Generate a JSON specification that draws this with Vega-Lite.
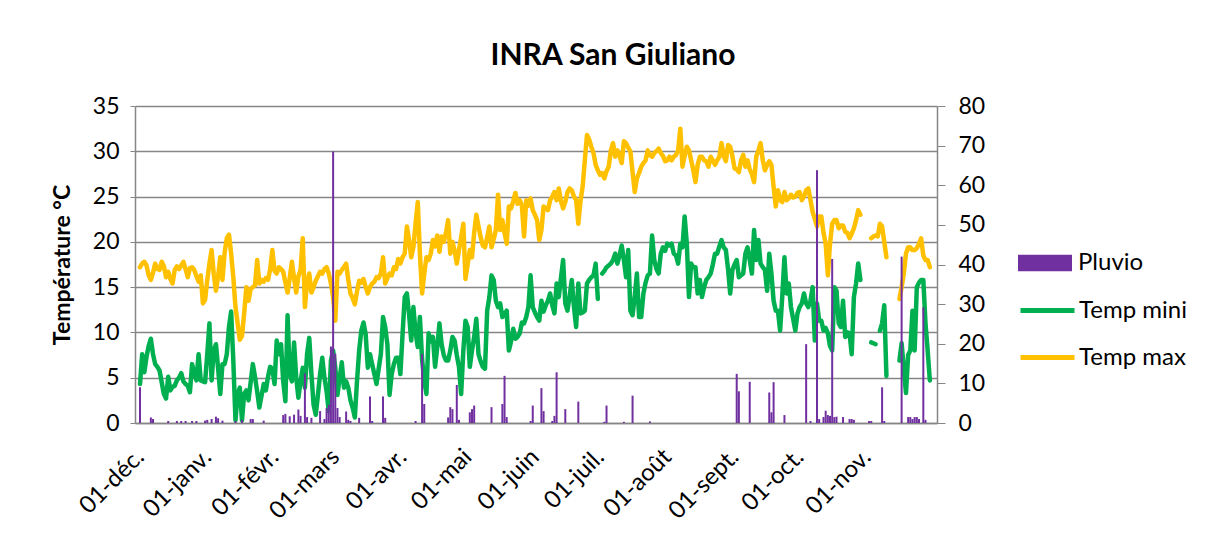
{
"$schema": "https://vega.github.io/schema/vega-lite/v6.json",
"width": 802, "height": 317,
"autosize": {"type": "none"},
"padding": {"left": 135, "top": 106, "right": 271, "bottom": 110},
"background": "white",
"title": {"text": "INRA San Giuliano", "font": "Lato", "fontSize": 30, "fontWeight": "bold", "color": "black", "anchor": "middle", "dx": 77, "offset": 24},
"config": {"view": {"stroke": null}, "font": "Lato"},
"data": {"values": [
{"date":"2012-12-01","min":4.3,"max":17.2,"rain":9},
{"date":"2012-12-02","min":7.6,"max":17.6},
{"date":"2012-12-03","min":5.6,"max":17.8},
{"date":"2012-12-04","min":7.3,"max":17.4},
{"date":"2012-12-05","min":8.5,"max":16.3},
{"date":"2012-12-06","min":9.3,"max":15.8,"rain":1.4},
{"date":"2012-12-07","min":7.6,"max":16.6,"rain":1.0},
{"date":"2012-12-08","min":6.5,"max":17.6},
{"date":"2012-12-09","min":6.2,"max":17.0},
{"date":"2012-12-10","min":5.8,"max":16.9},
{"date":"2012-12-11","min":4.5,"max":17.8},
{"date":"2012-12-12","min":3.2,"max":17.3},
{"date":"2012-12-13","min":2.7,"max":16.1},
{"date":"2012-12-14","min":5.1,"max":16.7,"rain":0.5},
{"date":"2012-12-15","min":3.6,"max":15.9},
{"date":"2012-12-16","min":4.0,"max":15.4},
{"date":"2012-12-17","min":4.1,"max":16.9},
{"date":"2012-12-18","min":4.7,"max":17.3,"rain":0.5},
{"date":"2012-12-19","min":5.0,"max":17.0},
{"date":"2012-12-20","min":5.5,"max":17.4,"rain":0.5},
{"date":"2012-12-21","min":4.6,"max":17.8},
{"date":"2012-12-22","min":4.3,"max":17.0,"rain":0.5},
{"date":"2012-12-23","min":4.1,"max":16.1},
{"date":"2012-12-24","min":3.4,"max":17.1},
{"date":"2012-12-25","min":6.5,"max":17.2,"rain":0.5},
{"date":"2012-12-26","min":5.5,"max":16.9},
{"date":"2012-12-27","min":4.7,"max":16.2,"rain":0.5},
{"date":"2012-12-28","min":7.6,"max":15.6},
{"date":"2012-12-29","min":4.7,"max":16.3},
{"date":"2012-12-30","min":4.6,"max":13.2},
{"date":"2012-12-31","min":4.5,"max":13.6,"rain":0.6},
{"date":"2013-01-01","min":7.6,"max":15.8,"rain":0.8},
{"date":"2013-01-02","min":11.0,"max":17.6},
{"date":"2013-01-03","min":4.7,"max":19.1,"rain":1.0},
{"date":"2013-01-04","min":8.0,"max":16.4},
{"date":"2013-01-05","min":8.7,"max":14.6,"rain":1.6},
{"date":"2013-01-06","min":6.0,"max":16.2,"rain":1.2},
{"date":"2013-01-07","min":3.2,"max":18.3},
{"date":"2013-01-08","min":6.5,"max":15.8,"rain":0.6},
{"date":"2013-01-09","min":6.5,"max":18.8},
{"date":"2013-01-10","min":7.6,"max":20.4},
{"date":"2013-01-11","min":10.6,"max":20.8},
{"date":"2013-01-12","min":12.3,"max":18.7},
{"date":"2013-01-13","min":6.9,"max":16.1},
{"date":"2013-01-14","min":0.3,"max":12.8,"rain":0.5},
{"date":"2013-01-15","min":3.2,"max":11.0},
{"date":"2013-01-16","min":3.9,"max":9.2},
{"date":"2013-01-17","min":0.3,"max":9.6,"rain":0.8},
{"date":"2013-01-18","min":3.2,"max":12.1},
{"date":"2013-01-19","min":3.6,"max":15.0},
{"date":"2013-01-20","min":2.5,"max":13.5},
{"date":"2013-01-21","min":4.5,"max":14.8,"rain":1.0},
{"date":"2013-01-22","min":6.5,"max":15.0,"rain":1.0},
{"date":"2013-01-23","min":5.1,"max":15.2},
{"date":"2013-01-24","min":3.5,"max":18.0},
{"date":"2013-01-25","min":1.7,"max":15.4},
{"date":"2013-01-26","min":3.0,"max":15.8},
{"date":"2013-01-27","min":4.3,"max":15.6,"rain":0.6},
{"date":"2013-01-28","min":3.6,"max":16.0},
{"date":"2013-01-29","min":5.1,"max":15.8},
{"date":"2013-01-30","min":6.2,"max":17.0},
{"date":"2013-01-31","min":6.0,"max":19.1},
{"date":"2013-02-01","min":4.3,"max":16.8},
{"date":"2013-02-02","min":9.1,"max":16.5},
{"date":"2013-02-03","min":7.6,"max":17.2},
{"date":"2013-02-04","min":8.7,"max":17.0},
{"date":"2013-02-05","min":4.6,"max":16.7,"rain":2.0},
{"date":"2013-02-06","min":2.4,"max":15.5,"rain":2.3},
{"date":"2013-02-07","min":11.9,"max":14.4},
{"date":"2013-02-08","min":5.4,"max":16.0,"rain":1.7},
{"date":"2013-02-09","min":4.6,"max":17.8},
{"date":"2013-02-10","min":8.9,"max":16.0,"rain":2.1},
{"date":"2013-02-11","min":5.0,"max":14.4},
{"date":"2013-02-12","min":2.8,"max":16.2,"rain":3.4},
{"date":"2013-02-13","min":4.6,"max":16.9,"rain":1.8},
{"date":"2013-02-14","min":6.1,"max":20.4},
{"date":"2013-02-15","min":3.9,"max":12.8,"rain":12.5},
{"date":"2013-02-16","min":7.6,"max":15.5,"rain":1.5},
{"date":"2013-02-17","min":9.4,"max":16.5},
{"date":"2013-02-18","min":5.4,"max":14.4,"rain":1.3},
{"date":"2013-02-19","min":2.0,"max":15.0},
{"date":"2013-02-20","min":0.9,"max":15.7},
{"date":"2013-02-21","min":3.1,"max":16.2},
{"date":"2013-02-22","min":5.4,"max":16.7,"rain":3.0},
{"date":"2013-02-23","min":7.2,"max":16.5},
{"date":"2013-02-24","min":5.0,"max":17.0,"rain":1.0},
{"date":"2013-02-25","min":3.5,"max":17.2,"rain":3.8},
{"date":"2013-02-26","min":1.3,"max":16.5,"rain":4.6},
{"date":"2013-02-27","min":6.9,"max":15.4,"rain":19.3},
{"date":"2013-02-28","min":8.0,"max":13.9,"rain":68.5},
{"date":"2013-03-01","min":6.1,"max":11.3,"rain":17.5},
{"date":"2013-03-02","min":3.1,"max":16.7,"rain":3.8},
{"date":"2013-03-03","min":5.0,"max":16.5,"rain":1.5},
{"date":"2013-03-04","min":6.7,"max":16.9},
{"date":"2013-03-05","min":3.9,"max":17.2},
{"date":"2013-03-06","min":4.6,"max":17.6,"rain":2.9},
{"date":"2013-03-07","min":3.9,"max":15.8,"rain":0.8},
{"date":"2013-03-08","min":2.5,"max":14.3,"rain":0.5},
{"date":"2013-03-09","min":1.7,"max":13.8},
{"date":"2013-03-10","min":0.6,"max":13.1},
{"date":"2013-03-11","min":4.6,"max":14.5},
{"date":"2013-03-12","min":8.0,"max":15.7,"rain":1.3},
{"date":"2013-03-13","min":10.2,"max":15.5},
{"date":"2013-03-14","min":11.1,"max":15.9},
{"date":"2013-03-15","min":9.8,"max":15.0},
{"date":"2013-03-16","min":6.1,"max":14.3},
{"date":"2013-03-17","min":7.6,"max":15.0,"rain":6.7},
{"date":"2013-03-18","min":6.5,"max":15.4,"rain":0.5},
{"date":"2013-03-19","min":5.4,"max":15.6},
{"date":"2013-03-20","min":4.3,"max":16.1},
{"date":"2013-03-21","min":6.0,"max":16.0},
{"date":"2013-03-22","min":7.6,"max":16.5},
{"date":"2013-03-23","min":11.7,"max":18.3,"rain":6.7},
{"date":"2013-03-24","min":10.6,"max":15.4,"rain":1.3},
{"date":"2013-03-25","min":8.7,"max":16.0},
{"date":"2013-03-26","min":3.1,"max":16.5},
{"date":"2013-03-27","min":5.4,"max":16.3},
{"date":"2013-03-28","min":6.5,"max":17.2},
{"date":"2013-03-29","min":7.2,"max":17.0},
{"date":"2013-03-30","min":7.2,"max":18.1},
{"date":"2013-03-31","min":5.4,"max":17.6},
{"date":"2013-04-01","min":9.8,"max":18.3},
{"date":"2013-04-02","min":13.9,"max":18.7},
{"date":"2013-04-03","min":14.3,"max":21.7},
{"date":"2013-04-04","min":12.0,"max":20.2},
{"date":"2013-04-05","min":9.1,"max":18.3},
{"date":"2013-04-06","min":12.8,"max":19.4},
{"date":"2013-04-07","min":10.0,"max":22.0,"rain":0.5},
{"date":"2013-04-08","min":8.4,"max":24.4},
{"date":"2013-04-09","min":11.7,"max":18.7},
{"date":"2013-04-10","min":7.0,"max":14.3,"rain":17.4},
{"date":"2013-04-11","min":4.7,"max":16.5,"rain":4.8},
{"date":"2013-04-12","min":3.2,"max":18.3},
{"date":"2013-04-13","min":9.9,"max":18.0},
{"date":"2013-04-14","min":9.0,"max":18.7},
{"date":"2013-04-15","min":9.5,"max":20.2},
{"date":"2013-04-16","min":6.2,"max":19.5},
{"date":"2013-04-17","min":8.4,"max":20.7},
{"date":"2013-04-18","min":11.0,"max":18.9},
{"date":"2013-04-19","min":8.7,"max":20.6},
{"date":"2013-04-20","min":7.5,"max":20.0},
{"date":"2013-04-21","min":6.9,"max":21.0},
{"date":"2013-04-22","min":6.9,"max":22.4,"rain":1.4},
{"date":"2013-04-23","min":8.0,"max":18.7,"rain":4.0},
{"date":"2013-04-24","min":9.5,"max":20.0,"rain":3.5},
{"date":"2013-04-25","min":9.1,"max":19.0},
{"date":"2013-04-26","min":7.5,"max":17.6,"rain":9.6},
{"date":"2013-04-27","min":6.2,"max":19.1,"rain":0.8},
{"date":"2013-04-28","min":3.2,"max":20.5},
{"date":"2013-04-29","min":8.0,"max":22.0},
{"date":"2013-04-30","min":11.3,"max":15.9},
{"date":"2013-05-01","min":10.6,"max":17.5},
{"date":"2013-05-02","min":6.2,"max":19.1,"rain":2.7},
{"date":"2013-05-03","min":8.0,"max":18.3,"rain":3.5},
{"date":"2013-05-04","min":9.5,"max":21.0,"rain":4.4},
{"date":"2013-05-05","min":11.5,"max":23.0},
{"date":"2013-05-06","min":7.6,"max":21.7},
{"date":"2013-05-07","min":6.8,"max":20.5},
{"date":"2013-05-08","min":6.2,"max":19.6},
{"date":"2013-05-09","min":6.0,"max":19.4},
{"date":"2013-05-10","min":12.4,"max":20.5},
{"date":"2013-05-11","min":13.9,"max":21.7},
{"date":"2013-05-12","min":16.3,"max":19.4,"rain":4.0},
{"date":"2013-05-13","min":15.8,"max":20.3},
{"date":"2013-05-14","min":13.5,"max":21.3},
{"date":"2013-05-15","min":12.8,"max":25.2},
{"date":"2013-05-16","min":13.2,"max":21.3},
{"date":"2013-05-17","min":11.7,"max":22.4,"rain":4.8},
{"date":"2013-05-18","min":12.0,"max":21.0,"rain":11.9},
{"date":"2013-05-19","min":12.4,"max":19.8,"rain":1.5},
{"date":"2013-05-20","min":8.0,"max":23.9},
{"date":"2013-05-21","min":9.0,"max":23.7},
{"date":"2013-05-22","min":10.4,"max":24.5},
{"date":"2013-05-23","min":9.3,"max":25.4},
{"date":"2013-05-24","min":9.5,"max":24.2},
{"date":"2013-05-25","min":9.9,"max":24.6},
{"date":"2013-05-26","min":11.1,"max":24.0},
{"date":"2013-05-27","min":11.0,"max":20.6},
{"date":"2013-05-28","min":11.7,"max":24.6},
{"date":"2013-05-29","min":12.8,"max":24.0},
{"date":"2013-05-30","min":16.3,"max":24.8,"rain":0.5},
{"date":"2013-05-31","min":12.8,"max":23.5,"rain":4.4},
{"date":"2013-06-01","min":12.2,"max":23.0},
{"date":"2013-06-02","min":11.7,"max":22.4},
{"date":"2013-06-03","min":11.3,"max":20.2},
{"date":"2013-06-04","min":13.5,"max":21.3,"rain":8.8},
{"date":"2013-06-05","min":12.3,"max":23.9,"rain":3.0},
{"date":"2013-06-06","min":13.0,"max":23.7},
{"date":"2013-06-07","min":13.5,"max":23.5},
{"date":"2013-06-08","min":14.3,"max":24.6},
{"date":"2013-06-09","min":13.0,"max":25.0,"rain":0.5},
{"date":"2013-06-10","min":12.1,"max":25.5,"rain":1.8},
{"date":"2013-06-11","min":15.4,"max":24.6,"rain":12.8},
{"date":"2013-06-12","min":13.9,"max":25.9},
{"date":"2013-06-13","min":16.0,"max":24.5},
{"date":"2013-06-14","min":18.0,"max":23.7},
{"date":"2013-06-15","min":13.2,"max":24.4,"rain":3.5},
{"date":"2013-06-16","min":12.4,"max":25.5},
{"date":"2013-06-17","min":14.0,"max":25.9},
{"date":"2013-06-18","min":15.8,"max":25.7},
{"date":"2013-06-19","min":12.8,"max":25.0},
{"date":"2013-06-20","min":10.6,"max":24.6},
{"date":"2013-06-21","min":15.4,"max":22.0,"rain":5.4},
{"date":"2013-06-22","min":12.1,"max":24.5},
{"date":"2013-06-23","min":12.2,"max":26.1},
{"date":"2013-06-24","min":12.4,"max":29.0},
{"date":"2013-06-25","min":15.4,"max":31.8},
{"date":"2013-06-26","min":15.8,"max":31.3},
{"date":"2013-06-27","min":16.1,"max":30.5},
{"date":"2013-06-28","min":16.3,"max":29.8},
{"date":"2013-06-29","min":17.6,"max":28.5},
{"date":"2013-06-30","min":13.7,"max":27.9},
{"date":"2013-07-01","min":null,"max":27.4},
{"date":"2013-07-02","min":16.5,"max":27.6},
{"date":"2013-07-03","min":16.8,"max":27.0,"rain":0.3},
{"date":"2013-07-04","min":17.2,"max":27.8,"rain":4.4},
{"date":"2013-07-05","min":17.4,"max":28.3},
{"date":"2013-07-06","min":17.6,"max":30.1},
{"date":"2013-07-07","min":18.0,"max":30.9},
{"date":"2013-07-08","min":18.7,"max":29.4},
{"date":"2013-07-09","min":17.6,"max":30.1},
{"date":"2013-07-10","min":18.5,"max":29.5},
{"date":"2013-07-11","min":19.6,"max":28.7},
{"date":"2013-07-12","min":18.0,"max":31.1,"rain":0.3},
{"date":"2013-07-13","min":16.1,"max":30.9},
{"date":"2013-07-14","min":19.1,"max":30.4},
{"date":"2013-07-15","min":12.4,"max":30.0},
{"date":"2013-07-16","min":11.9,"max":27.7,"rain":6.9},
{"date":"2013-07-17","min":14.0,"max":25.5},
{"date":"2013-07-18","min":16.5,"max":27.0},
{"date":"2013-07-19","min":11.7,"max":27.6},
{"date":"2013-07-20","min":11.7,"max":28.3},
{"date":"2013-07-21","min":14.3,"max":28.7},
{"date":"2013-07-22","min":15.5,"max":29.0},
{"date":"2013-07-23","min":16.3,"max":30.1},
{"date":"2013-07-24","min":16.5,"max":29.6,"rain":0.4},
{"date":"2013-07-25","min":20.7,"max":29.4},
{"date":"2013-07-26","min":18.0,"max":29.8},
{"date":"2013-07-27","min":17.0,"max":30.0},
{"date":"2013-07-28","min":16.5,"max":30.3},
{"date":"2013-07-29","min":18.7,"max":29.8},
{"date":"2013-07-30","min":19.4,"max":29.5},
{"date":"2013-07-31","min":19.0,"max":28.9},
{"date":"2013-08-01","min":19.8,"max":29.0},
{"date":"2013-08-02","min":19.6,"max":29.4},
{"date":"2013-08-03","min":19.8,"max":29.0},
{"date":"2013-08-04","min":18.7,"max":29.4},
{"date":"2013-08-05","min":18.5,"max":29.6},
{"date":"2013-08-06","min":17.6,"max":30.1},
{"date":"2013-08-07","min":19.8,"max":32.5},
{"date":"2013-08-08","min":19.4,"max":28.3},
{"date":"2013-08-09","min":22.8,"max":29.5},
{"date":"2013-08-10","min":19.8,"max":30.5},
{"date":"2013-08-11","min":13.9,"max":30.1},
{"date":"2013-08-12","min":17.6,"max":29.0},
{"date":"2013-08-13","min":17.2,"max":27.9},
{"date":"2013-08-14","min":17.2,"max":26.6},
{"date":"2013-08-15","min":14.3,"max":28.5},
{"date":"2013-08-16","min":15.8,"max":29.4},
{"date":"2013-08-17","min":13.9,"max":29.4},
{"date":"2013-08-18","min":15.0,"max":29.0},
{"date":"2013-08-19","min":15.8,"max":28.9},
{"date":"2013-08-20","min":16.1,"max":28.3},
{"date":"2013-08-21","min":16.5,"max":29.4},
{"date":"2013-08-22","min":17.5,"max":29.0},
{"date":"2013-08-23","min":18.7,"max":28.5},
{"date":"2013-08-24","min":18.7,"max":29.0},
{"date":"2013-08-25","min":19.5,"max":29.4},
{"date":"2013-08-26","min":20.2,"max":30.9},
{"date":"2013-08-27","min":19.4,"max":29.5},
{"date":"2013-08-28","min":19.1,"max":28.9},
{"date":"2013-08-29","min":17.0,"max":30.7},
{"date":"2013-08-30","min":14.3,"max":30.5},
{"date":"2013-08-31","min":16.9,"max":29.5},
{"date":"2013-09-01","min":17.5,"max":28.1},
{"date":"2013-09-02","min":18.0,"max":28.0,"rain":12.4},
{"date":"2013-09-03","min":16.1,"max":27.7,"rain":8.0},
{"date":"2013-09-04","min":16.3,"max":29.0},
{"date":"2013-09-05","min":16.5,"max":29.6},
{"date":"2013-09-06","min":18.7,"max":28.3},
{"date":"2013-09-07","min":19.4,"max":29.0},
{"date":"2013-09-08","min":18.0,"max":28.0,"rain":10.4},
{"date":"2013-09-09","min":16.5,"max":27.5},
{"date":"2013-09-10","min":21.3,"max":26.6},
{"date":"2013-09-11","min":18.0,"max":29.4},
{"date":"2013-09-12","min":20.2,"max":30.1},
{"date":"2013-09-13","min":17.6,"max":30.9},
{"date":"2013-09-14","min":17.2,"max":29.0},
{"date":"2013-09-15","min":16.9,"max":27.9},
{"date":"2013-09-16","min":14.6,"max":28.5},
{"date":"2013-09-17","min":18.7,"max":28.9,"rain":7.7},
{"date":"2013-09-18","min":16.5,"max":28.5,"rain":2.7},
{"date":"2013-09-19","min":13.5,"max":26.1,"rain":10.3},
{"date":"2013-09-20","min":12.4,"max":23.9},
{"date":"2013-09-21","min":12.4,"max":25.7},
{"date":"2013-09-22","min":10.2,"max":24.6},
{"date":"2013-09-23","min":14.0,"max":24.4},
{"date":"2013-09-24","min":18.3,"max":25.5,"rain":2.0},
{"date":"2013-09-25","min":14.3,"max":24.6},
{"date":"2013-09-26","min":15.4,"max":24.8},
{"date":"2013-09-27","min":12.8,"max":25.2},
{"date":"2013-09-28","min":11.5,"max":24.9},
{"date":"2013-09-29","min":10.2,"max":25.0},
{"date":"2013-09-30","min":12.1,"max":25.4},
{"date":"2013-10-01","min":12.8,"max":25.5},
{"date":"2013-10-02","min":13.2,"max":24.6},
{"date":"2013-10-03","min":14.3,"max":25.0},
{"date":"2013-10-04","min":13.2,"max":25.7,"rain":19.9},
{"date":"2013-10-05","min":12.8,"max":25.9},
{"date":"2013-10-06","min":13.5,"max":24.6,"rain":0.5},
{"date":"2013-10-07","min":15.0,"max":23.3},
{"date":"2013-10-08","min":9.1,"max":22.5},
{"date":"2013-10-09","min":13.2,"max":21.7,"rain":63.8},
{"date":"2013-10-10","min":11.3,"max":22.8,"rain":1.0},
{"date":"2013-10-11","min":11.3,"max":22.8},
{"date":"2013-10-12","min":10.2,"max":21.0,"rain":1.5},
{"date":"2013-10-13","min":10.5,"max":19.8,"rain":3.1},
{"date":"2013-10-14","min":9.9,"max":16.3,"rain":2.0},
{"date":"2013-10-15","min":8.5,"max":19.8,"rain":1.8},
{"date":"2013-10-16","min":8.0,"max":22.0,"rain":41.4},
{"date":"2013-10-17","min":15.0,"max":22.4,"rain":1.5},
{"date":"2013-10-18","min":14.6,"max":22.4,"rain":1.6},
{"date":"2013-10-19","min":11.0,"max":21.5},
{"date":"2013-10-20","min":10.6,"max":21.8},
{"date":"2013-10-21","min":13.5,"max":21.8,"rain":1.5},
{"date":"2013-10-22","min":9.5,"max":21.1},
{"date":"2013-10-23","min":10.0,"max":21.0},
{"date":"2013-10-24","min":9.9,"max":20.4,"rain":1.0},
{"date":"2013-10-25","min":7.6,"max":20.9,"rain":1.0},
{"date":"2013-10-26","min":13.9,"max":21.5,"rain":0.8},
{"date":"2013-10-27","min":15.4,"max":22.4},
{"date":"2013-10-28","min":17.6,"max":23.5},
{"date":"2013-10-29","min":15.8,"max":23.0},
{"date":"2013-10-30","min":null,"max":null},
{"date":"2013-10-31","min":null,"max":null},
{"date":"2013-11-01","min":null,"max":null},
{"date":"2013-11-02","min":null,"max":null,"rain":0.5},
{"date":"2013-11-03","min":8.9,"max":20.4,"rain":0.5},
{"date":"2013-11-04","min":8.8,"max":20.6},
{"date":"2013-11-05","min":8.7,"max":20.7},
{"date":"2013-11-06","min":null,"max":20.6},
{"date":"2013-11-07","min":10.2,"max":22.0},
{"date":"2013-11-08","min":11.0,"max":21.7,"rain":9.0},
{"date":"2013-11-09","min":13.0,"max":20.0,"rain":0.5},
{"date":"2013-11-10","min":5.2,"max":18.3},
{"date":"2013-11-11","min":null,"max":null},
{"date":"2013-11-12","min":null,"max":null},
{"date":"2013-11-13","min":null,"max":null},
{"date":"2013-11-14","min":null,"max":null},
{"date":"2013-11-15","min":null,"max":null},
{"date":"2013-11-16","min":6.9,"max":13.7},
{"date":"2013-11-17","min":8.8,"max":15.0,"rain":42.0},
{"date":"2013-11-18","min":6.0,"max":16.5},
{"date":"2013-11-19","min":3.3,"max":18.7},
{"date":"2013-11-20","min":7.5,"max":19.4,"rain":1.5},
{"date":"2013-11-21","min":8.0,"max":19.4,"rain":1.5},
{"date":"2013-11-22","min":12.4,"max":19.1,"rain":1.0},
{"date":"2013-11-23","min":8.0,"max":19.1,"rain":1.5},
{"date":"2013-11-24","min":15.0,"max":19.3,"rain":1.5},
{"date":"2013-11-25","min":15.5,"max":19.8,"rain":1.0},
{"date":"2013-11-26","min":15.8,"max":20.4},
{"date":"2013-11-27","min":15.8,"max":18.5,"rain":29.2},
{"date":"2013-11-28","min":11.0,"max":18.0,"rain":0.8},
{"date":"2013-11-29","min":8.0,"max":18.0},
{"date":"2013-11-30","min":4.7,"max":17.2}
]},
"encoding": {
  "x": {"field": "date", "type": "temporal",
    "scale": {"type": "utc", "domain": [{"year": 2012, "month": 12, "date": 1, "utc": true}, {"year": 2013, "month": 12, "date": 1, "utc": true}]},
    "axis": {"title": null, "grid": false, "ticks": false, "tickSize": 0, "domainColor": "#868686", "domainWidth": 1.5,
      "values": [{"year":2012,"month":12,"date":1,"utc":true},{"year":2013,"month":1,"date":1,"utc":true},{"year":2013,"month":2,"date":1,"utc":true},{"year":2013,"month":3,"date":1,"utc":true},{"year":2013,"month":4,"date":1,"utc":true},{"year":2013,"month":5,"date":1,"utc":true},{"year":2013,"month":6,"date":1,"utc":true},{"year":2013,"month":7,"date":1,"utc":true},{"year":2013,"month":8,"date":1,"utc":true},{"year":2013,"month":9,"date":1,"utc":true},{"year":2013,"month":10,"date":1,"utc":true},{"year":2013,"month":11,"date":1,"utc":true}],
      "labelExpr": "'01-' + ['janv.','févr.','mars','avr.','mai','juin','juil.','août','sept.','oct.','nov.','déc.'][utcmonth(datum.value)]",
      "labelAngle": -45, "labelAlign": "right", "labelBaseline": "middle", "labelPadding": 30,
      "labelFont": "Lato", "labelFontSize": 24, "labelColor": "black", "labelOverlap": false, "labelBound": false, "labelFlush": false}
  }
},
"layer": [
  {
    "layer": [
      {"mark": {"type": "line", "strokeWidth": 4.5, "strokeJoin": "round", "strokeCap": "round", "invalid": "break-paths-show-domains"},
       "encoding": {
         "y": {"field": "min", "type": "quantitative", "scale": {"domain": [0, 35]},
           "axis": {"values": [0,5,10,15,20,25,30,35], "title": "Température °C", "titleFont": "Lato", "titleFontSize": 23, "titleFontWeight": "bold", "titleColor": "black", "titlePadding": 18,
             "labelFont": "Lato", "labelFontSize": 23, "labelColor": "black", "labelPadding": 11, "tickSize": 5, "tickColor": "#868686", "domainColor": "#868686", "domainWidth": 1.5, "grid": true, "gridColor": "#868686", "gridWidth": 1.3}},
         "stroke": {"datum": "Temp mini", "type": "nominal", "scale": {"domain": ["Temp mini", "Temp max"], "range": ["#00B050", "#FFC000"]},
           "legend": {"title": null, "orient": "none", "legendX": 883, "legendY": 175, "symbolType": "stroke", "symbolSize": 2916, "symbolStrokeWidth": 5, "labelFont": "Lato", "labelFontSize": 24, "labelColor": "black", "labelOffset": 2, "rowPadding": 5}}
       }},
      {"mark": {"type": "line", "strokeWidth": 4.5, "strokeJoin": "round", "strokeCap": "round", "invalid": "break-paths-show-domains"},
       "encoding": {
         "y": {"field": "max", "type": "quantitative", "scale": {"domain": [0, 35]},
           "axis": {"values": [0,5,10,15,20,25,30,35], "title": "Température °C", "titleFont": "Lato", "titleFontSize": 23, "titleFontWeight": "bold", "titleColor": "black", "titlePadding": 18,
             "labelFont": "Lato", "labelFontSize": 23, "labelColor": "black", "labelPadding": 11, "tickSize": 5, "tickColor": "#868686", "domainColor": "#868686", "domainWidth": 1.5, "grid": true, "gridColor": "#868686", "gridWidth": 1.3}},
         "stroke": {"datum": "Temp max", "type": "nominal", "scale": {"domain": ["Temp mini", "Temp max"], "range": ["#00B050", "#FFC000"]}}
       }}
    ]
  },
  {"mark": {"type": "bar", "size": 2},
   "encoding": {
     "y": {"field": "rain", "type": "quantitative", "scale": {"domain": [0, 80]},
       "axis": {"orient": "right", "values": [0,10,20,30,40,50,60,70,80], "title": null, "grid": false,
         "labelFont": "Lato", "labelFontSize": 23, "labelColor": "black", "labelPadding": 13, "tickSize": 8, "tickColor": "#868686", "domainColor": "#868686", "domainWidth": 1.5}},
     "fill": {"datum": "Pluvio", "type": "nominal", "scale": {"domain": ["Pluvio"], "range": ["#7030A0"]},
       "legend": {"title": null, "orient": "none", "legendX": 883, "legendY": 130, "symbolType": "M-1,-0.31H1V0.31H-1Z", "symbolSize": 2916, "symbolStrokeWidth": 0, "labelFont": "Lato", "labelFontSize": 24, "labelColor": "black", "labelOffset": 6}}
   }}
],
"resolve": {"scale": {"y": "independent"}}
}
